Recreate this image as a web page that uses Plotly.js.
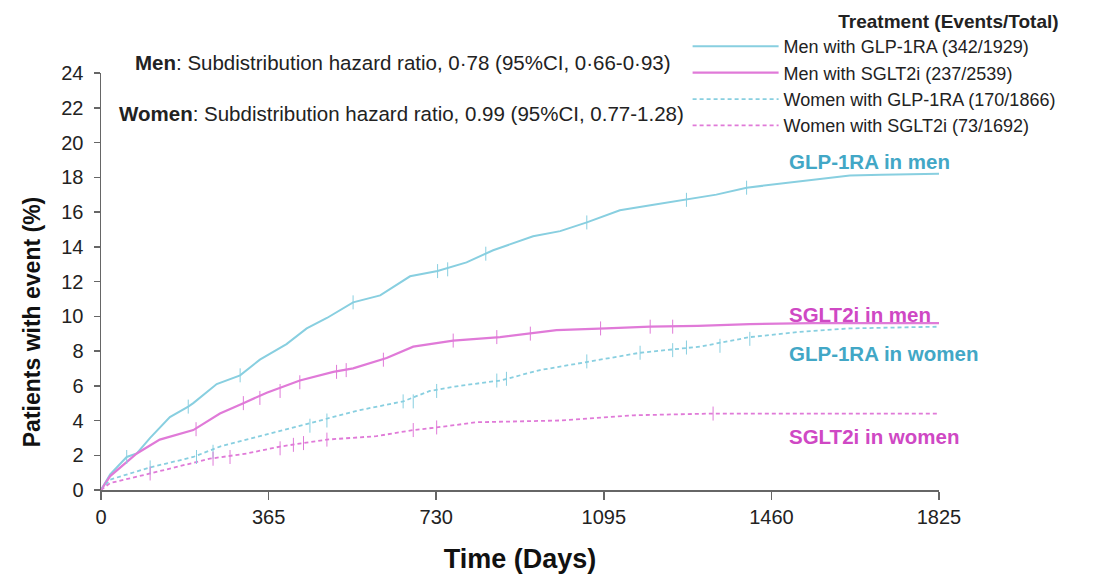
<!DOCTYPE html>
<html><head><meta charset="utf-8">
<script src="https://cdn.plot.ly/plotly-3.0.1.min.js"></script>
<style>html,body{margin:0;padding:0;background:#fff}#chart{width:1097px;height:579px}</style>
</head><body><div id="chart"></div>
<script>
// ---- data ----
const xTicks = [0, 365, 730, 1095, 1460, 1825];
const yTicks = [0, 2, 4, 6, 8, 10, 12, 14, 16, 18, 20, 22, 24];

const menGlpDays = [0, 20, 56, 78, 107, 150, 190, 201, 252, 303, 346, 404, 448, 492, 549, 608, 673, 733, 796, 854, 941, 1000, 1058, 1130, 1200, 1268, 1340, 1406, 1470, 1522, 1580, 1631, 1700, 1825];
const menGlpPct  = [0, 0.9, 1.9, 2.1, 3.0, 4.2, 4.8, 5.0, 6.1, 6.6, 7.5, 8.4, 9.3, 9.9, 10.8, 11.2, 12.3, 12.6, 13.1, 13.8, 14.6, 14.9, 15.4, 16.1, 16.4, 16.7, 17.0, 17.4, 17.6, 17.8, 17.95, 18.1, 18.15, 18.2];

const menSgltDays = [0, 20, 78, 128, 201, 259, 310, 361, 433, 506, 549, 622, 680, 767, 869, 992, 1100, 1196, 1300, 1413, 1550, 1825];
const menSgltPct  = [0, 0.8, 2.1, 2.9, 3.45, 4.4, 5.0, 5.6, 6.3, 6.8, 7.0, 7.6, 8.25, 8.6, 8.8, 9.2, 9.3, 9.4, 9.45, 9.55, 9.6, 9.6];

const womenGlpDays = [0, 20, 107, 201, 259, 317, 419, 506, 564, 658, 716, 782, 869, 956, 1065, 1174, 1304, 1413, 1522, 1631, 1825];
const womenGlpPct  = [0, 0.6, 1.3, 1.9, 2.5, 2.9, 3.6, 4.2, 4.6, 5.1, 5.7, 6.0, 6.3, 6.9, 7.4, 7.9, 8.25, 8.8, 9.1, 9.3, 9.4];

const womenSgltDays = [0, 20, 107, 237, 317, 390, 492, 600, 680, 731, 818, 1000, 1159, 1333, 1825];
const womenSgltPct  = [0, 0.4, 0.95, 1.8, 2.1, 2.5, 2.9, 3.1, 3.45, 3.6, 3.9, 4.0, 4.3, 4.4, 4.4];

// censoring marks
const menGlpCensDays = [56, 190, 303, 549, 733, 755, 838, 1058, 1275, 1406];
const menGlpCensPct  = [1.9, 4.8, 6.6, 10.8, 12.6, 12.7, 13.6, 15.4, 16.7, 17.4];
const menSgltCensDays = [207, 310, 346, 390, 433, 513, 534, 615, 767, 862, 935, 1088, 1196, 1245];
const menSgltCensPct  = [3.5, 5.0, 5.3, 5.7, 6.2, 6.8, 6.9, 7.5, 8.6, 8.8, 9.0, 9.3, 9.4, 9.4];
const womenGlpCensDays = [107, 208, 244, 455, 492, 658, 680, 731, 862, 883, 1058, 1174, 1245, 1275, 1348, 1413];
const womenGlpCensPct  = [1.3, 1.9, 2.2, 3.7, 4.0, 5.1, 5.1, 5.7, 6.3, 6.4, 7.4, 7.9, 8.05, 8.2, 8.3, 8.7];
const womenSgltCensDays = [107, 244, 281, 390, 419, 441, 492, 680, 731, 1333];
const womenSgltCensPct  = [0.95, 1.8, 1.9, 2.4, 2.6, 2.7, 2.9, 3.45, 3.6, 4.4];

const seriesNames = ['Men with GLP-1RA (342/1929)', 'Men with SGLT2i (237/2539)', 'Women with GLP-1RA (170/1866)', 'Women with SGLT2i (73/1692)'];
const curveLabels = ['GLP-1RA in men', 'SGLT2i in men', 'GLP-1RA in women', 'SGLT2i in women'];
const curveLabelY = [18.9, 10.1, 7.85, 3.1];

// ---- styling ----
const BLUE = '#88cfe0', MAG = '#e07ad8';
const BLUE_T = '#42a7c6', MAG_T = '#cf48c4';
const FONT = 'Liberation Sans, Arial, sans-serif';
const DASH = '4px,3px';

function curve(x, y, name, color, dash, w) {
  return {x, y, name, type: 'scatter', mode: 'lines',
    line: {color, width: w, dash, shape: 'linear'}, hoverinfo: 'skip'};
}
function cens(x, y, color) {
  return {x, y, type: 'scatter', mode: 'markers', showlegend: false,
    marker: {symbol: 'line-ns', size: 10, line: {color, width: 1}}, hoverinfo: 'skip'};
}

const traces = [
  curve(menGlpDays, menGlpPct, seriesNames[0], BLUE, 'solid', 2),
  curve(menSgltDays, menSgltPct, seriesNames[1], MAG, 'solid', 2.2),
  curve(womenGlpDays, womenGlpPct, seriesNames[2], BLUE, DASH, 1.8),
  curve(womenSgltDays, womenSgltPct, seriesNames[3], MAG, DASH, 1.8),
  cens(menGlpCensDays, menGlpCensPct, BLUE),
  cens(menSgltCensDays, menSgltCensPct, MAG),
  cens(womenGlpCensDays, womenGlpCensPct, BLUE),
  cens(womenSgltCensDays, womenSgltCensPct, MAG)
];

const labelColors = [BLUE_T, MAG_T, BLUE_T, MAG_T];
const annotations = curveLabels.map((t, i) => ({
  text: '<b>' + t + '</b>', x: 1494, y: curveLabelY[i], xref: 'x', yref: 'y',
  xanchor: 'left', yanchor: 'middle', showarrow: false,
  font: {family: FONT, size: 20.5, color: labelColors[i]}
}));
annotations.push({
  text: '<b>Men</b>: Subdistribution hazard ratio, 0·78 (95%CI, 0·66-0·93)',
  x: 0.038, y: 1.026, xref: 'paper', yref: 'paper', xanchor: 'left', yanchor: 'middle',
  showarrow: false, font: {family: FONT, size: 20.5, color: '#222'}
});
annotations.push({
  text: '<b>Women</b>: Subdistribution hazard ratio, 0.99 (95%CI, 0.77-1.28)',
  x: 0.019, y: 0.902, xref: 'paper', yref: 'paper', xanchor: 'left', yanchor: 'middle',
  showarrow: false, font: {family: FONT, size: 20.5, color: '#222'}
});
// y-axis title (placed lower than centre, as in the reference)
annotations.push({
  text: '<b>Patients with event (%)</b>', textangle: -90,
  x: -0.082, y: 0.403, xref: 'paper', yref: 'paper', xanchor: 'center', yanchor: 'middle',
  showarrow: false, font: {family: FONT, size: 23, color: '#111'}
});

const layout = {
  width: 1097, height: 579,
  margin: {l: 101, r: 158, t: 73, b: 89, autoexpand: false},
  paper_bgcolor: '#fff', plot_bgcolor: '#fff',
  showlegend: true,
  legend: {
    x: 0.70, y: 1.167, xanchor: 'left', yanchor: 'top',
    bgcolor: 'rgba(0,0,0,0)', itemwidth: 86, tracegroupgap: 0,
    font: {family: FONT, size: 18, color: '#222'},
    title: {text: '<b>Treatment (Events/Total)</b>', side: 'top right', font: {family: FONT, size: 19, color: '#222'}}
  },
  xaxis: {
    range: [0, 1825], tickvals: xTicks, ticktext: xTicks.map(String),
    showgrid: false, zeroline: false, showline: true, linecolor: '#666', linewidth: 1.5,
    ticks: 'outside', ticklen: 8, tickcolor: '#666', tickwidth: 1.5,
    tickfont: {family: FONT, size: 20, color: '#222'},
    title: {text: '<b>Time (Days)</b>', font: {family: FONT, size: 27, color: '#111'}, standoff: 22}
  },
  yaxis: {
    range: [0, 24], tickvals: yTicks, ticktext: yTicks.map(String),
    showgrid: false, zeroline: false, showline: true, linecolor: '#666', linewidth: 1.5,
    ticks: 'outside', ticklen: 6, tickcolor: '#666', tickwidth: 1.5, ticklabelstandoff: 6,
    tickfont: {family: FONT, size: 20, color: '#222'}
  },
  annotations
};

Plotly.newPlot('chart', traces, layout, {staticPlot: true, displayModeBar: false});
</script></body></html>
